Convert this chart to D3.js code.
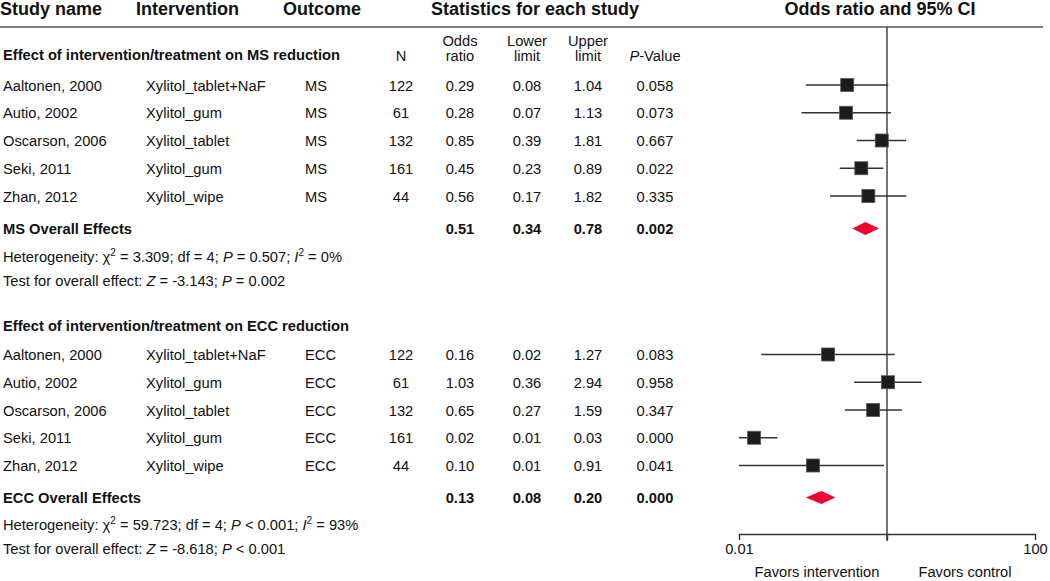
<!DOCTYPE html>
<html>
<head>
<meta charset="utf-8">
<script src="https://cdn.jsdelivr.net/npm/d3@7"></script>
<style>
  body { margin: 0; background: #fff; }
  svg text { font-family: "Liberation Sans", Arial, sans-serif; fill: #111; }
</style>
</head>
<body>
<div id="chart"></div>
<script>
// studies (same for both outcomes)
var studies = ["Aaltonen, 2000", "Autio, 2002", "Oscarson, 2006", "Seki, 2011", "Zhan, 2012"];
var interventions = ["Xylitol_tablet+NaF", "Xylitol_gum", "Xylitol_tablet", "Xylitol_gum", "Xylitol_wipe"];
var sampleN = [122, 61, 132, 161, 44];

// MS reduction
var msOR    = [0.29, 0.28, 0.85, 0.45, 0.56];
var msLower = [0.08, 0.07, 0.39, 0.23, 0.17];
var msUpper = [1.04, 1.13, 1.81, 0.89, 1.82];
var msP     = [0.058, 0.073, 0.667, 0.022, 0.335];
var msOverall = [0.51, 0.34, 0.78, 0.002];   // OR, lower, upper, p

// ECC reduction
var eccOR    = [0.16, 1.03, 0.65, 0.016, 0.10];
var eccLower = [0.02, 0.36, 0.27, 0.01, 0.01];
var eccUpper = [1.27, 2.94, 1.59, 0.033, 0.91];
var eccP     = [0.083, 0.958, 0.347, 0.000, 0.041];
var eccOverall = [0.13, 0.08, 0.20, 0.000];

var msHet  = [["Heterogeneity: ", ""], ["\u03C7", ""], ["2", "sup"], [" = 3.309; df = 4; ", ""], ["P", "i"], [" = 0.507; ", ""], ["I", "i"], ["2", "sup"], [" = 0%", ""]];
var msTest = [["Test for overall effect: ", ""], ["Z", "i"], [" = -3.143; ", ""], ["P", "i"], [" = 0.002", ""]];
var eccHet  = [["Heterogeneity: ", ""], ["\u03C7", ""], ["2", "sup"], [" = 59.723; df = 4; ", ""], ["P", "i"], [" < 0.001; ", ""], ["I", "i"], ["2", "sup"], [" = 93%", ""]];
var eccTest = [["Test for overall effect: ", ""], ["Z", "i"], [" = -8.618; ", ""], ["P", "i"], [" < 0.001", ""]];

var axisTicks = [0.01, 1, 100];
var axisLabels = ["0.01", "", "100"];

var width = 1050, height = 581;
var fs = 14.7;
var col = { study: 3, interv: 146, outcome: 305, n: 401, or: 460, lower: 527, upper: 588, p: 655 };

var svg = d3.select("#chart").append("svg")
    .attr("width", width)
    .attr("height", height);

var x = d3.scaleLog().domain([0.01, 100]).range([739, 1035]);
var f2 = d3.format(".2f"), f3 = d3.format(".3f");

function txt(xp, yp, s, anchor, bold, size) {
  return svg.append("text")
      .attr("x", xp).attr("y", yp)
      .attr("text-anchor", anchor || "start")
      .style("font-size", (size || fs) + "px")
      .style("font-weight", bold ? "bold" : "normal")
      .text(s);
}

function richText(xp, yp, parts) {
  var t = svg.append("text").attr("x", xp).attr("y", yp).style("font-size", fs + "px");
  var up = false;
  parts.forEach(function(p) {
    var ts = t.append("tspan").text(p[0]);
    if (p[1] == "i") ts.style("font-style", "italic");
    if (p[1] == "sup") { ts.attr("dy", -6).style("font-size", "10px"); up = true; }
    else if (up) { ts.attr("dy", 6); up = false; }
  });
}

// header
txt(0, 15, "Study name", "start", true, 18);
txt(136, 15, "Intervention", "start", true, 18);
txt(283, 15, "Outcome", "start", true, 18);
txt(535, 15, "Statistics for each study", "middle", true, 18);
txt(880, 15, "Odds ratio and 95% CI", "middle", true, 18);

svg.append("line")
    .attr("x1", 0).attr("x2", 1043).attr("y1", 27).attr("y2", 27)
    .style("stroke", "#555").style("stroke-width", 1.5);

txt(col.n, 61, "N", "middle");
txt(col.or, 46, "Odds", "middle");
txt(col.or, 61, "ratio", "middle");
txt(col.lower, 46, "Lower", "middle");
txt(col.lower, 61, "limit", "middle");
txt(col.upper, 46, "Upper", "middle");
txt(col.upper, 61, "limit", "middle");
var pv = svg.append("text").attr("x", col.p).attr("y", 61).attr("text-anchor", "middle").style("font-size", fs + "px");
pv.append("tspan").style("font-style", "italic").text("P");
pv.append("tspan").text("-Value");

// reference line at OR = 1
svg.append("line")
    .attr("x1", x(1)).attr("x2", x(1)).attr("y1", 27).attr("y2", 541)
    .style("stroke", "#444").style("stroke-width", 1.5);

function section(titleY, title, outcome, yRange, or, lo, up, p, overall, overallY, overallLabel, het, test, hetY) {
  var y = d3.scalePoint().domain(studies).range(yRange);
  txt(col.study, titleY, title, "start", true);

  studies.forEach(function(s, i) {
    var yy = y(s) + 5.5;
    txt(col.study, yy, s);
    txt(col.interv, yy, interventions[i]);
    txt(col.outcome, yy, outcome);
    txt(col.n, yy, sampleN[i], "middle");
    txt(col.or, yy, f2(or[i]), "middle");
    txt(col.lower, yy, f2(lo[i]), "middle");
    txt(col.upper, yy, f2(up[i]), "middle");
    txt(col.p, yy, f3(p[i]), "middle");
  });

  var g = svg.append("g");
  g.selectAll("line.ci")
    .data(studies).enter()
    .append("line")
      .attr("x1", function(d, i) { return x(lo[i]); })
      .attr("x2", function(d, i) { return x(up[i]); })
      .attr("y1", function(d) { return y(d); })
      .attr("y2", function(d) { return y(d); })
      .style("stroke", "#333")
      .style("stroke-width", 1.6);

  g.selectAll("rect")
    .data(studies).enter()
    .append("rect")
      .attr("x", function(d, i) { return x(or[i]) - 6.5; })
      .attr("y", function(d) { return y(d) - 6.5; })
      .attr("width", 13)
      .attr("height", 13)
      .style("fill", "#1c1c1c")
      .style("stroke", "#555")
      .style("stroke-width", 0.8);

  // overall row
  var oy = overallY + 5.5;
  txt(col.study, oy, overallLabel, "start", true);
  txt(col.or, oy, f2(overall[0]), "middle", true);
  txt(col.lower, oy, f2(overall[1]), "middle", true);
  txt(col.upper, oy, f2(overall[2]), "middle", true);
  txt(col.p, oy, f3(overall[3]), "middle", true);

  g.append("polygon")
    .attr("points", [
        [x(overall[1]), overallY],
        [x(overall[0]), overallY - 6.5],
        [x(overall[2]), overallY],
        [x(overall[0]), overallY + 6.5]
      ].join(" "))
    .style("fill", "#f2002f");

  richText(col.study, hetY, het);
  richText(col.study, hetY + 23.5, test);
}

section(60, "Effect of intervention/treatment on MS reduction", "MS", [85, 196],
        msOR, msLower, msUpper, msP, msOverall, 228.5, "MS Overall Effects", msHet, msTest, 262);
section(331, "Effect of intervention/treatment on ECC reduction", "ECC", [354.5, 465.5],
        eccOR, eccLower, eccUpper, eccP, eccOverall, 497.5, "ECC Overall Effects", eccHet, eccTest, 530);

// axis
var axis = svg.append("g")
    .attr("transform", "translate(0,534)")
    .call(d3.axisBottom(x)
      .tickValues(axisTicks)
      .tickSize(6)
      .tickSizeOuter(0)
      .tickFormat(function(d, i) { return axisLabels[i]; }));
axis.select(".domain").style("stroke", "#333").style("stroke-width", 1.4);
axis.selectAll(".tick line").style("stroke", "#333").style("stroke-width", 1.4);
axis.selectAll(".tick text")
    .attr("y", 10)
    .style("font-size", fs + "px")
    .style("font-family", "'Liberation Sans', Arial, sans-serif")
    .style("fill", "#111");

txt(817, 577, "Favors intervention", "middle");
txt(965, 577, "Favors control", "middle");
</script>
</body>
</html>
